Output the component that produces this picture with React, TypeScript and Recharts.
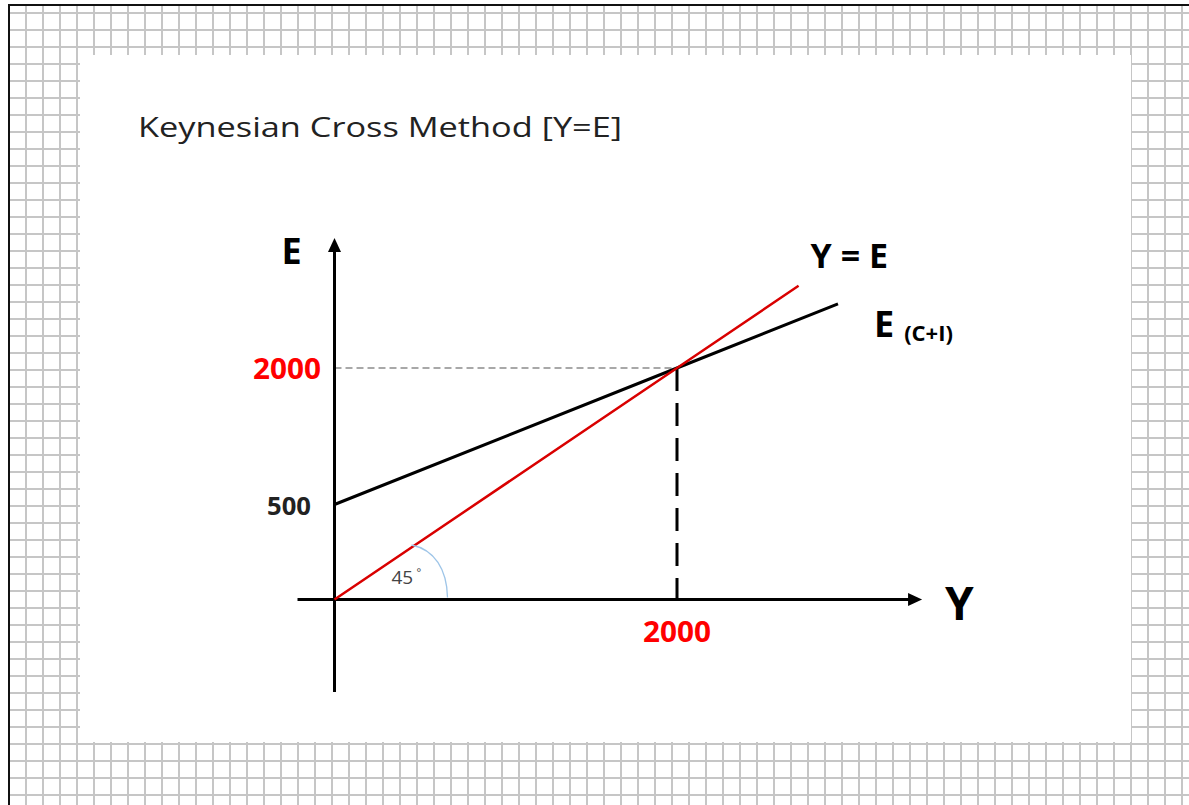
import { LineChart, Line, XAxis, YAxis, ReferenceLine, ReferenceDot } from "recharts";

// Keynesian cross: 45 degree line and aggregate expenditure E = C + I
const incomeY = [0, 2000, 2710];
const spendingE45 = [0, 2000, 2710];

const incomeCI = [0, 2000, 2940];
const spendingCI = [500, 2000, 2705];

const incomeTicks = [2000];
const spendingTicks = [500, 2000];

const equilibrium = { y: 2000, e: 2000 };

const FONT = '"Open Sans", sans-serif';
const AXIS_W = 60;

const line45 = incomeY.map((y, i) => ({ y, e: spendingE45[i] }));
const lineCI = incomeCI.map((y, i) => ({ y, e: spendingCI[i] }));

function arrowShape(label: string, dx: number, dy: number, size: number) {
  return (props: any) => {
    const { x1, y1, x2, y2 } = props;
    const len = Math.hypot(x2 - x1, y2 - y1) || 1;
    const ux = (x2 - x1) / len;
    const uy = (y2 - y1) / len;
    const head = 14;
    const half = 6.5;
    const bx = x2 - ux * head;
    const by = y2 - uy * head;
    const pts = `${x2},${y2} ${bx - uy * half},${by + ux * half} ${bx + uy * half},${by - ux * half}`;
    return (
      <g>
        <line x1={x1} y1={y1} x2={bx + ux * 2} y2={by + uy * 2} stroke="#000" strokeWidth={3} />
        <polygon points={pts} fill="#000" />
        <text x={x2 + dx} y={y2 + dy} fontFamily={FONT} fontWeight={700} fontSize={size} fill="#000">
          {label}
        </text>
      </g>
    );
  };
}

// tick x comes in at the left edge of the axis box, so push it over to the axis line
const ETick = (props: any) => {
  const { x, y, payload } = props;
  const red = payload.value === 2000;
  return (
    <text
      x={x + AXIS_W - (red ? 13.5 : 23.5)}
      y={y}
      dy={11}
      textAnchor="end"
      fontFamily={FONT}
      fontWeight={700}
      fontSize={red ? 28 : 25}
      textLength={red ? 68 : 44}
      lengthAdjust="spacingAndGlyphs"
      fill={red ? "#ff0000" : "#222"}
    >
      {payload.value}
    </text>
  );
};

const YTick = (props: any) => {
  const { x, y, payload } = props;
  return (
    <text
      x={x - 34}
      y={y}
      dy={42}
      fontFamily={FONT}
      fontWeight={700}
      fontSize={28}
      textLength={68}
      lengthAdjust="spacingAndGlyphs"
      fill="#ff0000"
    >
      {payload.value}
    </text>
  );
};

const AngleMark = (props: any) => {
  const { cx, cy } = props;
  return (
    <g>
      <path
        d={`M ${cx + 77} ${cy - 54.5} C ${cx + 100} ${cy - 50} ${cx + 112.5} ${cy - 30} ${cx + 113} ${cy - 2}`}
        fill="none"
        stroke="#9ec5e8"
        strokeWidth={1.3}
      />
      <text x={cx + 57} y={cy - 15.5} fontFamily={FONT} fontSize={19} fill="#444">
        45
      </text>
      <text x={cx + 82} y={cy - 24} fontFamily={FONT} fontSize={11} fill="#444">
        °
      </text>
    </g>
  );
};

const LineTag = (main: string, sub: string, dx: number, dy: number, size: number) => (props: any) => {
  const { cx, cy } = props;
  return (
    <text x={cx + dx} y={cy + dy} fontFamily={FONT} fontWeight={700} fill="#000">
      <tspan fontSize={size}>{main}</tspan>
      {sub ? (
        <tspan fontSize={22} dx={10} dy={4}>
          {sub}
        </tspan>
      ) : null}
    </text>
  );
};

export default function App() {
  return (
    <div style={{ position: "absolute", left: 0, top: 0, width: 1189, height: 805, background: "#fff", overflow: "hidden" }}>
      <div
        style={{
          position: "absolute",
          left: 8,
          top: 4,
          width: 1181,
          height: 801,
          borderTop: "2px solid #111",
          borderLeft: "2px solid #111",
          boxSizing: "border-box",
          backgroundImage:
            "linear-gradient(to right, #c6c6c6 2px, transparent 2px), linear-gradient(to bottom, #c6c6c6 2px, transparent 2px)",
          backgroundSize: "17px 17px",
          backgroundPosition: "15px 6px",
        }}
      />
      <div style={{ position: "absolute", left: 80, top: 55, width: 1051, height: 687, background: "#fff" }} />
      <svg style={{ position: "absolute", left: 0, top: 0 }} width={1189} height={805}>
        <text
          x={138}
          y={137}
          fontFamily={FONT}
          fontSize={28}
          textLength={484}
          lengthAdjust="spacingAndGlyphs"
          fill="#222"
        >
          Keynesian Cross Method [Y=E]
        </text>
      </svg>
      <div style={{ position: "absolute", left: 0, top: 0 }}>
        <LineChart
          width={1189}
          height={805}
          margin={{ top: 229.1, right: 272.25, bottom: 175.5, left: 334.5 - AXIS_W }}
        >
          <XAxis
            type="number"
            dataKey="y"
            domain={[0, 3400]}
            ticks={incomeTicks}
            axisLine={false}
            tickLine={false}
            tickSize={0}
            tickMargin={0}
            height={30}
            tick={YTick}
            interval={0}
          />
          <YAxis yAxisId="a" type="number" domain={[0, 3200]} hide />
          <YAxis
            yAxisId="b"
            type="number"
            domain={[-544, 3526.4]}
            ticks={spendingTicks}
            axisLine={false}
            tickLine={false}
            tickSize={0}
            tickMargin={0}
            width={AXIS_W}
            tick={ETick}
            interval={0}
          />
          <ReferenceLine
            yAxisId="a"
            segment={[{ x: 0, y: equilibrium.e }, { x: equilibrium.y, y: equilibrium.e }]}
            stroke="#8c8c8c"
            strokeWidth={1.5}
            strokeDasharray="7 4"
            ifOverflow="visible"
          />
          <ReferenceLine
            yAxisId="a"
            segment={[{ x: equilibrium.y, y: equilibrium.e }, { x: equilibrium.y, y: 0 }]}
            stroke="#000"
            strokeWidth={3}
            strokeDasharray="23 12"
            ifOverflow="visible"
          />
          <ReferenceLine
            yAxisId="a"
            segment={[{ x: -216, y: 0 }, { x: 3431, y: 0 }]}
            ifOverflow="visible"
            shape={arrowShape("Y", 23, 20.5, 46)}
          />
          <ReferenceLine
            yAxisId="a"
            segment={[{ x: 0, y: -799 }, { x: 0, y: 3123 }]}
            ifOverflow="visible"
            shape={arrowShape("E", -53, 26, 36)}
          />
          <Line
            yAxisId="b"
            data={lineCI}
            dataKey="e"
            type="linear"
            stroke="#000"
            strokeWidth={3}
            dot={false}
            isAnimationActive={false}
          />
          <Line
            yAxisId="a"
            data={line45}
            dataKey="e"
            type="linear"
            stroke="#d90000"
            strokeWidth={2.5}
            dot={false}
            isAnimationActive={false}
          />
          <ReferenceDot yAxisId="a" x={0} y={0} ifOverflow="visible" shape={AngleMark} />
          <ReferenceDot
            yAxisId="a"
            x={incomeY[2]}
            y={spendingE45[2]}
            ifOverflow="visible"
            shape={LineTag("Y = E", "", 12, -18, 34)}
          />
          <ReferenceDot
            yAxisId="b"
            x={incomeCI[2]}
            y={spendingCI[2]}
            ifOverflow="visible"
            shape={LineTag("E", "(C+I)", 36, 33, 36)}
          />
        </LineChart>
      </div>
    </div>
  );
}
